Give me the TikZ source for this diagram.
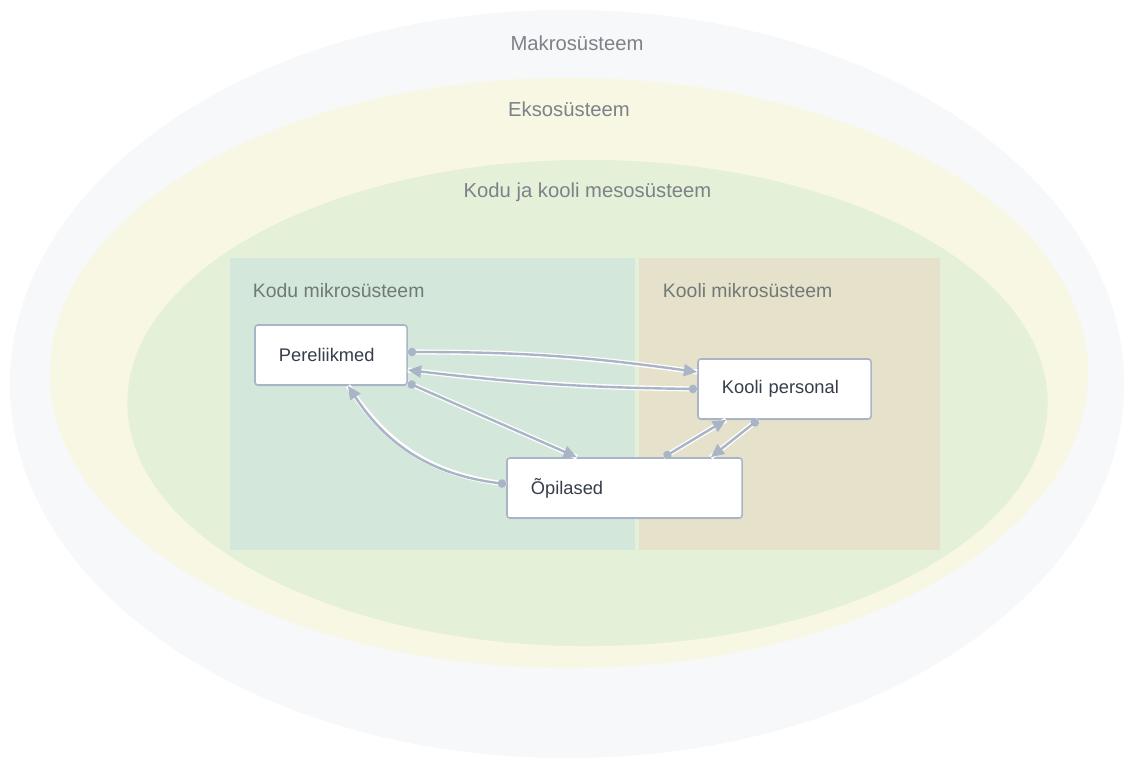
\documentclass[tikz,border=0pt]{standalone}
\usepackage{fontspec}
\setmainfont{Liberation Sans}
\usetikzlibrary{arrows.meta,shadows}

\definecolor{makrofill}{HTML}{F7F8FA}
\definecolor{eksofill}{HTML}{F7F7E4}
\definecolor{mesofill}{HTML}{E4F0D8}
\definecolor{kodufill}{HTML}{D3E7DA}
\definecolor{koolifill}{HTML}{E6E1CB}
\definecolor{labelgray}{HTML}{7C8287}
\definecolor{mikrogray}{HTML}{6F7A76}
\definecolor{linkblue}{HTML}{A9B4C7}
\definecolor{boxtext}{HTML}{363E4B}

\tikzset{
  syslabel/.style={text=labelgray, font=\fontsize{14.4}{17}\selectfont},
  mikrolabel/.style={text=mikrogray, font=\fontsize{13.8}{16}\selectfont, anchor=west},
  box/.style={draw=linkblue, line width=1.1pt, fill=white, rounded corners=2pt,
    drop shadow={opacity=0.12, shadow xshift=0.2pt, shadow yshift=-0.9pt},
    minimum height=1.5cm, inner xsep=0.6cm, align=left, text=boxtext,
    font=\fontsize{13}{15}\selectfont},
  link/.style={draw=linkblue, line width=1.7pt,
    {Circle[length=6pt]}-{Triangle[length=9.5pt,width=8.5pt]},
    preaction={draw=white, line width=3.6pt, -}}
}

\begin{document}
\begin{tikzpicture}[x=0.025cm, y=-0.025cm]

\useasboundingbox (0,0) rectangle (1130,759);

% the nested systems
\fill [makrofill] (567,384) ellipse (13.925cm and 9.35cm);
\fill [eksofill] (569,373) ellipse (12.975cm and 7.375cm);
\fill [mesofill] (587.5,403) ellipse (11.5cm and 6.075cm);

\node [syslabel] (makro) at (577,43) {Makrosüsteem};
\node [syslabel] (ekso) at (569,109) {Eksosüsteem};
\node [syslabel] (meso) at (587.5,192) {Kodu ja kooli mesosüsteem};

% micro systems
\fill [kodufill] (230,258) rectangle (635,550);
\fill [koolifill] (639,258) rectangle (940,550);

\node [mikrolabel] (kodu) at (248,291) {Kodu mikrosüsteem};
\node [mikrolabel] (kooli) at (658,291) {Kooli mikrosüsteem};

% the actors
\node [box, text width=2.6cm] (pere) at (331,355) {Pereliikmed};
\node [box, text width=3.125cm] (kp) at (784.5,389) {Kooli personal};
\node [box, text width=4.675cm] (opi) at (624.5,488) {Õpilased};

% links between home and school
\draw [link] ([yshift=0.075cm]pere.east) to [bend left=4] ([yshift=0.425cm]kp.west);
\draw [link] (kp.west) to [bend left=3] ([yshift=-0.375cm]pere.east);

% home and pupils
\draw [link] ([yshift=0.075cm]pere.south east) -- ([xshift=-1.19cm]opi.north);
\draw [link] ([yshift=0.1cm]opi.west) to [bend left=25] ([xshift=0.425cm]pere.south);

% school and pupils
\draw [link] ([xshift=-1.975cm]opi.north east) -- ([xshift=-1.46cm]kp.south);
\draw [link] ([xshift=-0.66cm]kp.south) -- ([xshift=-0.8cm]opi.north east);

\end{tikzpicture}
\end{document}
